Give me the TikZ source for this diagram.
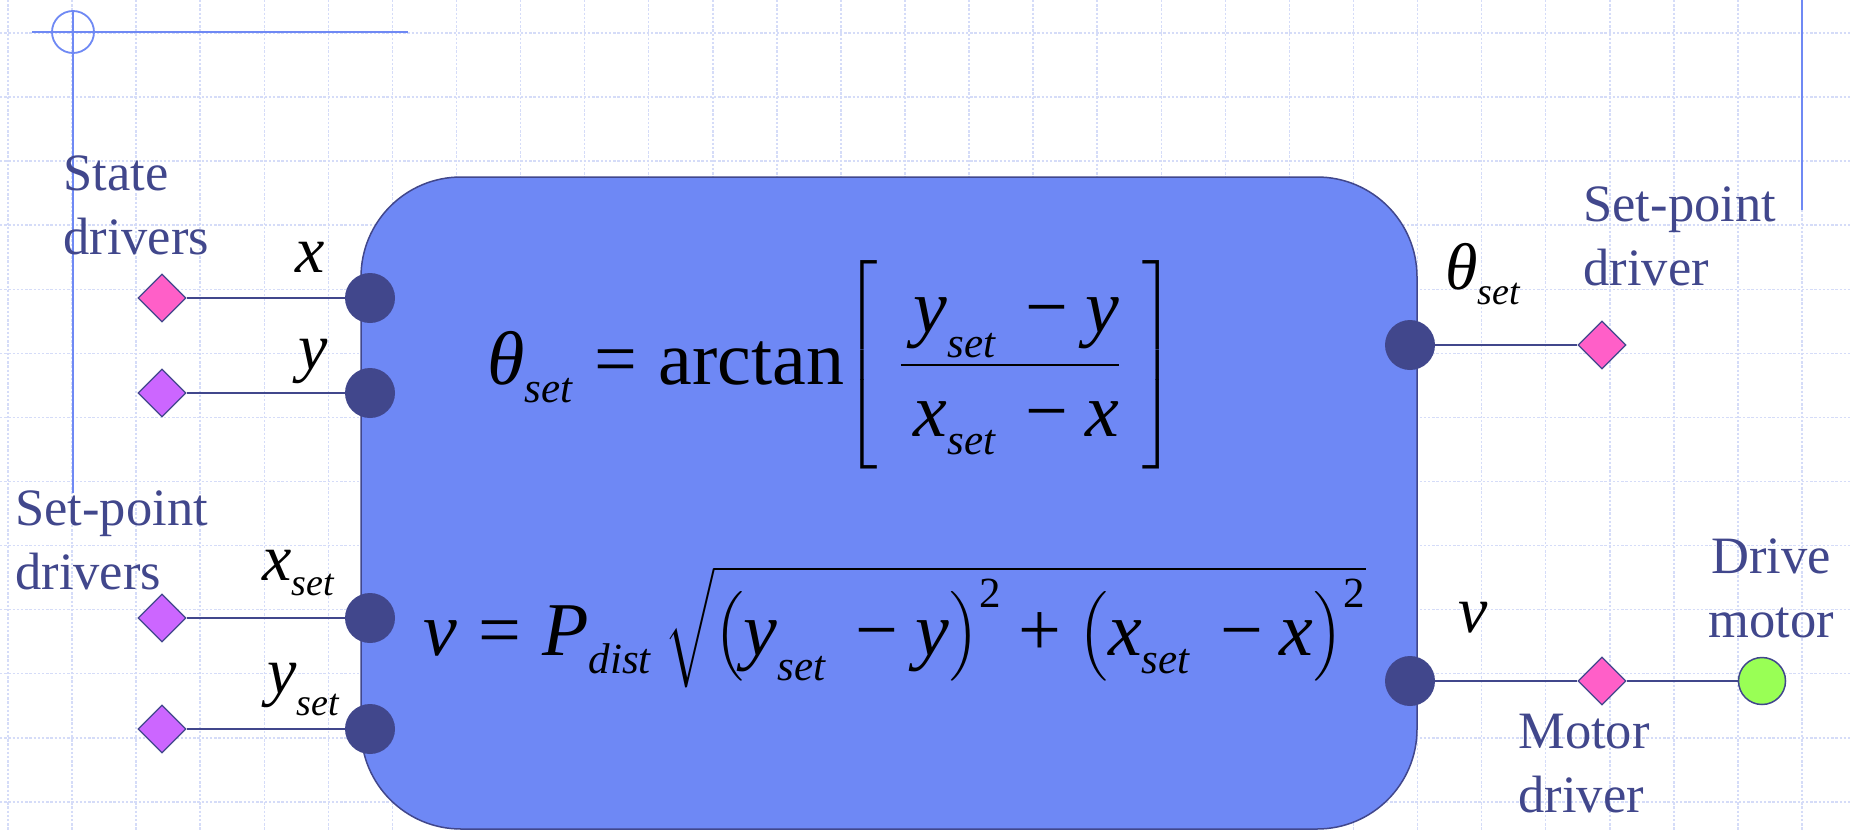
\RequirePackage{fix-cm}
\documentclass[tikz,border=0pt]{standalone}
\usepackage{amsmath}
\usepackage{fontspec}
\setmainfont{Liberation Serif}
\usepackage{tikz}
\usetikzlibrary{positioning,shapes.geometric}
\definecolor{ctrlblue}{HTML}{6E88F5}
\definecolor{ctrlnavy}{HTML}{41478C}
\definecolor{ctrlgrid}{HTML}{D5DCF8}
\definecolor{ctrlline}{HTML}{6F89F4}
\definecolor{ctrlpink}{HTML}{FF5FC8}
\definecolor{ctrlviolet}{HTML}{CC66FF}
\definecolor{ctrlgreen}{HTML}{99FF55}
\DeclareMathSizes{38}{38}{21.5}{16}
\DeclareMathSizes{33}{33}{19}{14}
\newcommand{\mi}[1]{\textit{#1}}
\newcommand{\st}[1]{\text{\itshape\raisebox{-0.16em}{#1}}}
\newcommand{\eqs}{\mathrel{\text{=}}}
\newcommand{\mns}{\mathbin{\text{−}}}
\newcommand{\pls}{\mathbin{\text{+}}}

\begin{document}
\begin{tikzpicture}[x=0.5pt,y=-0.5pt,
  gridline/.style={ctrlgrid,line width=0.75pt,dash pattern=on 1.2pt off 0.9pt},
  deco/.style={ctrlline,line width=0.9pt},
  ctrlbox/.style={draw=ctrlnavy,fill=ctrlblue,line width=0.75pt,rounded corners=50pt,minimum width=528pt,minimum height=326pt},
  port/.style={circle,fill=ctrlnavy,minimum size=25pt,inner sep=0pt},
  drv/.style={diamond,draw=ctrlnavy,fill=ctrlviolet,line width=0.6pt,minimum size=24pt,inner sep=0pt},
  motor/.style={circle,draw=ctrlnavy,fill=ctrlgreen,line width=0.75pt,minimum size=23.5pt,inner sep=0pt},
  wire/.style={ctrlnavy,line width=1pt},
  lbl/.style={font=\fontsize{26.25}{32}\selectfont,text=ctrlnavy,align=left,inner sep=0pt,anchor=north west},
  plbl/.style={font=\fontsize{33}{40}\selectfont,inner sep=0pt,anchor=base west},
  eqn/.style={font=\fontsize{38}{46}\selectfont,inner sep=0pt,anchor=base west}
]
\useasboundingbox (0,0) rectangle (1851,830);
\fill[white] (0,0) rectangle (1851,830);
\foreach \k in {0,...,28} \draw[gridline] ({8+64.07*\k},0) -- ({8+64.07*\k},830);
\foreach \k in {0,...,12} \draw[gridline] (0,{33+64.07*\k}) -- (1851,{33+64.07*\k});
\draw[deco] (32,32) -- (408,32);
\draw[deco] (73,10) -- (73,493);
\draw[deco] (73,32) circle[radius=10.5pt];
\draw[deco] (1802,0) -- (1802,210);

\node[ctrlbox] (ctrl) at (889,503) {};

\node[port] (px) at (370,298) {};
\node[port] (py) at (370,393) {};
\node[port] (pxs) at (370,618) {};
\node[port] (pys) at (370,729) {};
\node[port] (pth) at (1410,345) {};
\node[port] (pv) at (1410,681) {};

\node[drv,fill=ctrlpink] (dx) at (162,298) {};
\node[drv] (dy) at (162,393) {};
\node[drv] (dxs) at (162,618) {};
\node[drv] (dys) at (162,729) {};
\node[drv,fill=ctrlpink] (dth) at (1602,345) {};
\node[drv,fill=ctrlpink] (dmot) at (1602,681) {};
\node[motor] (mot) at (1762,681) {};

\draw[wire] (dx) -- (px);
\draw[wire] (dy) -- (py);
\draw[wire] (dxs) -- (pxs);
\draw[wire] (dys) -- (pys);
\draw[wire] (pth) -- (dth);
\draw[wire] (pv) -- (dmot) -- (mot);

\node[lbl] (stdrv) at (63,155) {State\\drivers};
\node[lbl] (spdrv) at (15,490) {Set-point\\drivers};
\node[lbl] (spdrvr) at (1583,186) {Set-point\\driver};
\node[lbl,anchor=north,align=center] (dmlbl) at (1771,538) {Drive\\motor};
\node[lbl] (mdlbl) at (1518,714) {Motor\\driver};

\node[plbl] (lx) at (295,272) {$\mi{x}$};
\node[plbl] (ly) at (298,369) {$\mi{y}$};
\node[plbl] (lxs) at (262,580) {$\mi{x}_{\st{set}}$};
\node[plbl] (lys) at (267,693) {$\mi{y}_{\st{set}}$};
\node[plbl] (lth) at (1445,289) {$\mi{θ}_{\st{set}}$};
\node[plbl] (lv) at (1458,632) {$\mi{v}$};

\node[eqn] (eqth) at (487,384) {$\mi{θ}_{\st{set}} \eqs \text{arctan}\!\left[\rule[-43.5pt]{0pt}{106pt}\;\dfrac{\,\mi{y}_{\st{set}}\,\mns \mi{y}}{\,\mi{x}_{\st{set}}\,\mns \mi{x}}\;\right]$};
\node[eqn] (eqv) at (423,655) {$\mi{v} \eqs \mi{P}_{\st{dist}}\,\sqrt{\bigl(\mi{y}_{\st{set}}\,\mns \mi{y}\bigr)^{\text{2}} \pls \bigl(\mi{x}_{\st{set}}\,\mns \mi{x}\bigr)^{\text{2}}}$};
\end{tikzpicture}
\end{document}
